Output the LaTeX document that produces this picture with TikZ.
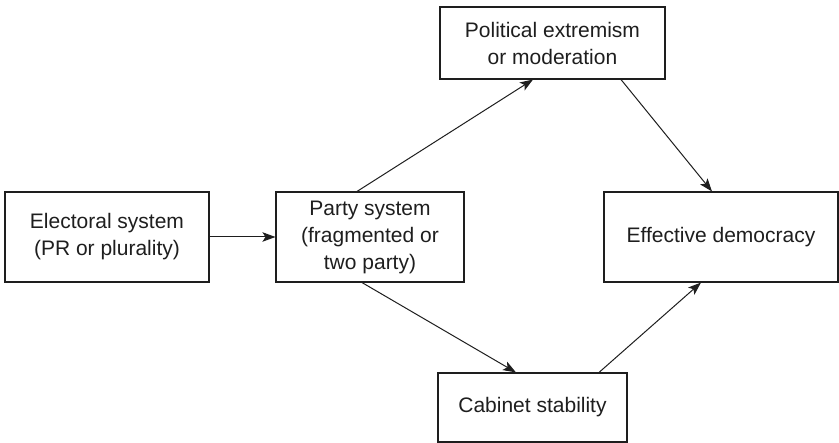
\documentclass[tikz,border=0pt]{standalone}
\usepackage{fontspec}
\setmainfont{Liberation Sans}
\usetikzlibrary{arrows.meta}
\definecolor{ink}{HTML}{1E1E1E}
\begin{document}
\begin{tikzpicture}[x=1pt,y=-1pt,
  box/.style={draw=ink, line width=1.1pt, rectangle, align=center, inner sep=0pt,
    text=ink, font=\fontsize{21}{27}\selectfont},
  link/.style={draw=ink, line width=1pt, -{Stealth[length=13pt,width=9.5pt,inset=3pt]}}]
  \useasboundingbox (0,0) rectangle (839,443);

  \node[box, minimum width=204pt, minimum height=90pt] (elec)  at (107,237)   {Electoral system\\(PR or plurality)};
  \node[box, minimum width=188pt, minimum height=90pt] (party) at (370,237)   {Party system\\(fragmented or\\two party)};
  \node[box, minimum width=225pt, minimum height=72pt] (polit) at (552.5,43)  {Political extremism\\or moderation};
  \node[box, minimum width=234pt, minimum height=90pt] (eff)   at (721,237)   {Effective democracy};
  \node[box, minimum width=189pt, minimum height=69pt] (cab)   at (532.5,407.5) {Cabinet stability};

  \draw[link] (elec.east) -- (party.west);
  \draw[link] ([xshift=-13pt]party.north) -- ([xshift=-19.5pt]polit.south);
  \draw[link] ([xshift=68.5pt]polit.south) -- ([xshift=-9pt]eff.north);
  \draw[link] ([xshift=-8pt]party.south) -- ([xshift=-16.5pt]cab.north);
  \draw[link] ([xshift=66.5pt]cab.north) -- ([xshift=-20pt]eff.south);
\end{tikzpicture}
\end{document}
